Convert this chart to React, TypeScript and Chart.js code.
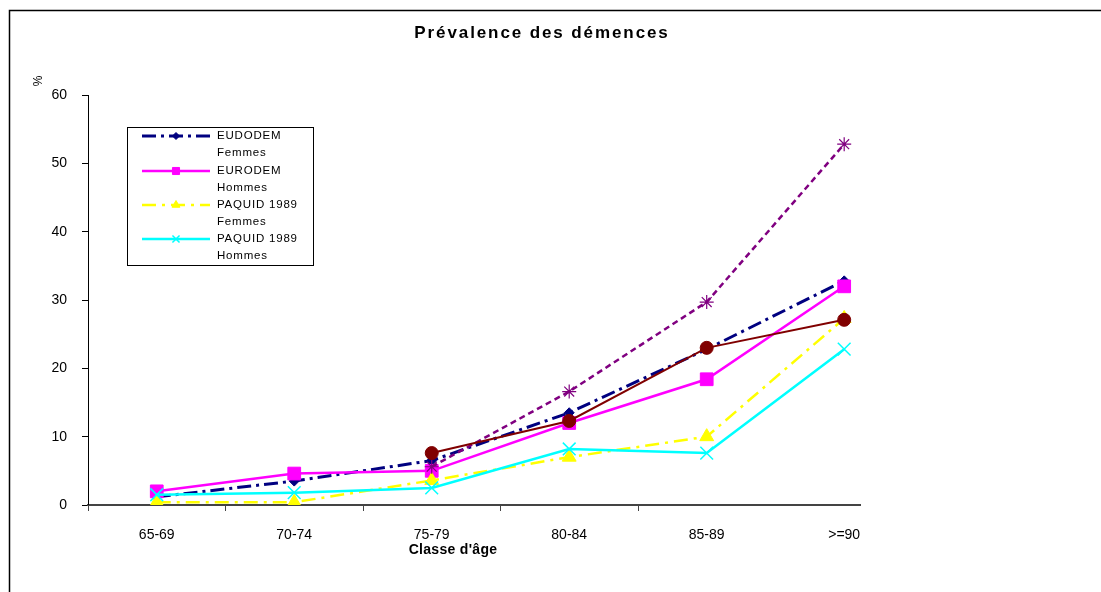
import { useEffect, useRef } from 'react';
import { Chart, registerables } from 'chart.js';
import { drawPoint } from 'chart.js/helpers';

Chart.register(...registerables);

// ---- data ----
const categories = ['65-69', '70-74', '75-79', '80-84', '85-89', '>=90'];
const eudodemFemmes = [1.2, 3.5, 6.5, 13.5, 22.8, 32.8];
const eurodemHommes = [2.0, 4.6, 5.0, 12.0, 18.4, 32.0];
const paquidFemmes = [0.4, 0.4, 3.6, 7.0, 10.0, 27.3];
const paquidHommes = [1.5, 1.8, 2.5, 8.2, 7.6, 22.8];
const serieViolette = [null, null, 5.6, 16.6, 29.7, 52.8];
const serieBrune = [null, null, 7.6, 12.3, 23.0, 27.1];
const yTicks = [0, 10, 20, 30, 40, 50, 60];
const legendLabels = [
  ['EUDODEM', 'Femmes'],
  ['EURODEM', 'Hommes'],
  ['PAQUID 1989', 'Femmes'],
  ['PAQUID 1989', 'Hommes'],
];
const titleText = 'Prévalence des démences';
const xTitleText = "Classe d'âge";
const yTitleText = '%';

// ---- styles ----
const seriesValues = [eudodemFemmes, eurodemHommes, paquidFemmes, paquidHommes, serieViolette, serieBrune];
const seriesStyles = [
  { color: '#000080', dash: [14, 5, 3, 5], width: 3, pointStyle: 'rectRot', radius: 5, pbw: 1, lr: 3.5 },
  { color: '#FF00FF', dash: [], width: 2.5, pointStyle: 'rect', radius: 9, pbw: 1, lr: 5 },
  { color: '#FFFF00', dash: [14, 6, 3, 6], width: 2.5, pointStyle: 'triangle', radius: 8, pbw: 1, lr: 4.5 },
  { color: '#00FFFF', dash: [], width: 2.5, pointStyle: 'crossRot', radius: 9, pbw: 1.5, lr: 5 },
  { color: '#800080', dash: [6, 4], width: 2.5, pointStyle: 'star', radius: 7, pbw: 1.2, lr: 5 },
  { color: '#800000', dash: [], width: 2, pointStyle: 'circle', radius: 6.5, pbw: 1, lr: 5 },
];
const X_MIN = -0.5;
const X_MAX = 5.115;
const FONT = '"Liberation Sans", Arial, sans-serif';

const decorPlugin = {
  id: 'decor',
  beforeDraw(chart: any) {
    const ctx = chart.ctx;
    ctx.save();
    ctx.fillStyle = '#ffffff';
    ctx.fillRect(0, 0, chart.width, chart.height);
    ctx.restore();
  },
  afterDraw(chart: any) {
    const ctx = chart.ctx as CanvasRenderingContext2D & { letterSpacing?: string };
    const xs = chart.scales.x;
    const area = chart.chartArea;
    ctx.save();
    // frame
    ctx.strokeStyle = '#000';
    ctx.lineWidth = 1.5;
    ctx.beginPath();
    ctx.moveTo(9.5, chart.height + 5);
    ctx.lineTo(9.5, 10.5);
    ctx.lineTo(chart.width + 5, 10.5);
    ctx.stroke();

    // x tick marks between categories
    ctx.strokeStyle = '#444';
    ctx.lineWidth = 1;
    for (let i = 0; i < categories.length - 1; i++) {
      const px = Math.round(xs.getPixelForValue(i - 0.5)) + 0.5;
      ctx.beginPath();
      ctx.moveTo(px, area.bottom);
      ctx.lineTo(px, area.bottom + 6);
      ctx.stroke();
    }

    // title
    ctx.fillStyle = '#000';
    ctx.textAlign = 'center';
    ctx.textBaseline = 'middle';
    ctx.font = `bold 17px ${FONT}`;
    ctx.letterSpacing = '1.9px';
    ctx.fillText(titleText, 542, 33);

    // x title
    ctx.font = `bold 14px ${FONT}`;
    ctx.letterSpacing = '0.3px';
    ctx.fillText(xTitleText, 453, 550);

    // y title
    ctx.save();
    ctx.translate(39, 81);
    ctx.rotate(-Math.PI / 2);
    ctx.font = `12px ${FONT}`;
    ctx.letterSpacing = '0px';
    ctx.fillText(yTitleText, 0, 0);
    ctx.restore();

    // legend
    const bx = 127.5, by = 127.5, bw = 186, bh = 138;
    ctx.fillStyle = '#fff';
    ctx.fillRect(bx, by, bw, bh);
    ctx.strokeStyle = '#000';
    ctx.lineWidth = 1;
    ctx.setLineDash([]);
    ctx.strokeRect(bx, by, bw, bh);
    const rowY = [136, 171, 205, 239];
    legendLabels.forEach((lab, i) => {
      const st = seriesStyles[i];
      const y = rowY[i];
      ctx.save();
      ctx.strokeStyle = st.color;
      ctx.lineWidth = st.width;
      ctx.setLineDash(st.dash);
      ctx.beginPath();
      ctx.moveTo(142, y);
      ctx.lineTo(210, y);
      ctx.stroke();
      ctx.restore();
      ctx.save();
      ctx.fillStyle = st.color;
      ctx.strokeStyle = st.color;
      ctx.lineWidth = st.pbw;
      drawPoint(ctx, { pointStyle: st.pointStyle as any, radius: st.lr, rotation: 0, borderWidth: st.pbw }, 176, y);
      ctx.restore();
      ctx.fillStyle = '#000';
      ctx.textAlign = 'left';
      ctx.textBaseline = 'middle';
      ctx.font = `11.5px ${FONT}`;
      ctx.letterSpacing = '0.8px';
      ctx.fillText(lab[0], 217, y);
      ctx.fillText(lab[1], 217, y + 17);
    });
    ctx.restore();
  },
};

export default function App() {
  const ref = useRef<HTMLCanvasElement>(null);
  useEffect(() => {
    const canvas = ref.current;
    if (!canvas) return;
    const datasets = seriesValues.map((vals, i) => {
      const st = seriesStyles[i];
      return {
        label: i < legendLabels.length ? legendLabels[i].join(' ') : `Série ${i + 1}`,
        data: vals.map((v, k) => ({ x: k, y: v })),
        borderColor: st.color,
        backgroundColor: st.color,
        borderWidth: st.width,
        borderDash: st.dash,
        pointStyle: st.pointStyle,
        pointRadius: st.radius,
        pointBorderWidth: st.pbw,
        pointBackgroundColor: st.color,
        pointBorderColor: st.color,
        tension: 0,
        order: 10 - i,
        spanGaps: false,
      };
    });
    const chart = new Chart(canvas, {
      type: 'line',
      data: { datasets: datasets as any },
      options: {
        animation: false,
        responsive: false,
        devicePixelRatio: 1,
        layout: { padding: { left: 0, top: 95, right: 1101 - 860, bottom: 37 } },
        plugins: { legend: { display: false }, title: { display: false }, tooltip: { enabled: false } },
        scales: {
          x: {
            type: 'linear',
            min: X_MIN,
            max: X_MAX,
            afterBuildTicks: (scale: any) => {
              scale.ticks = categories.map((_, i) => ({ value: i }));
            },
            afterFit: (scale: any) => {
              scale.height = 50;
            },
            grid: { display: false, drawTicks: false, tickLength: 0 },
            border: { display: true, color: '#444', width: 2 },
            ticks: {
              autoSkip: false,
              maxRotation: 0,
              minRotation: 0,
              padding: 22,
              color: '#000',
              font: { family: FONT, size: 14 },
              callback: (v: any) => categories[Number(v)] ?? '',
            },
          },
          y: {
            type: 'linear',
            min: 0,
            max: 60,
            afterBuildTicks: (scale: any) => {
              scale.ticks = yTicks.map((v) => ({ value: v }));
            },
            afterFit: (scale: any) => {
              scale.width = 88;
            },
            grid: { display: true, drawOnChartArea: false, drawTicks: true, tickLength: 6, color: '#000', lineWidth: 1 },
            border: { display: true, color: '#000', width: 1 },
            ticks: {
              padding: 15,
              color: '#000',
              font: { family: FONT, size: 14 },
            },
          },
        },
      },
      plugins: [decorPlugin],
    } as any);
    return () => chart.destroy();
  }, []);
  return (
    <div style={{ position: 'fixed', left: 0, top: 0, width: 1101, height: 592, overflow: 'hidden', background: '#fff' }}>
      <canvas ref={ref} width={1101} height={592} style={{ display: 'block', width: 1101, height: 592 }} />
    </div>
  );
}
